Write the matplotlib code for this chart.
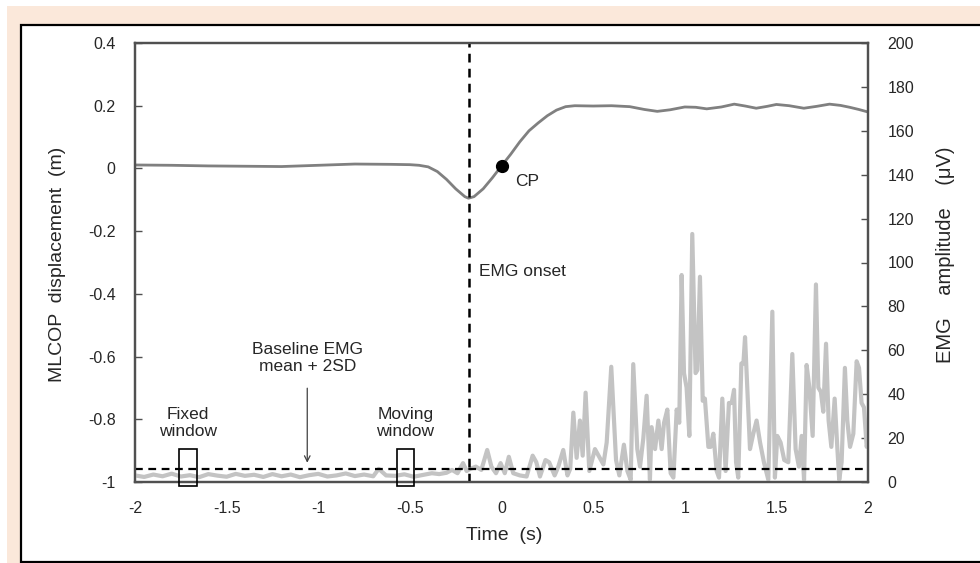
import matplotlib.pyplot as plt
from matplotlib.patches import Rectangle

plt.rcParams['font.family'] = ['Liberation Sans', 'DejaVu Sans']

# MLCOP displacement (m), left axis
cop_t = [-2.0, -1.8, -1.6, -1.4, -1.2, -1.0, -0.8, -0.6, -0.5, -0.45, -0.40,
         -0.35, -0.30, -0.25, -0.20, -0.18, -0.15, -0.10, -0.05, 0.0, 0.05,
         0.10, 0.15, 0.20, 0.25, 0.30, 0.35, 0.40, 0.50, 0.60, 0.70, 0.78,
         0.85, 0.92, 1.00, 1.06, 1.12, 1.20, 1.27, 1.33, 1.39, 1.45, 1.50,
         1.57, 1.65, 1.72, 1.79, 1.85, 1.90, 1.95, 2.00]
cop_v = [0.011, 0.010, 0.008, 0.007, 0.006, 0.010, 0.014, 0.013, 0.012, 0.010, 0.005,
         -0.010, -0.035, -0.065, -0.090, -0.095, -0.090, -0.065, -0.030, 0.008, 0.045,
         0.085, 0.120, 0.145, 0.168, 0.186, 0.197, 0.200, 0.199, 0.200, 0.197, 0.188,
         0.182, 0.187, 0.196, 0.195, 0.190, 0.196, 0.205, 0.199, 0.192, 0.198, 0.204,
         0.200, 0.192, 0.198, 0.205, 0.201, 0.195, 0.188, 0.180]

# EMG amplitude (uV), right axis
emg_t = [-2.00, -1.95, -1.90, -1.85, -1.80, -1.75, -1.70, -1.65, -1.60, -1.55,
         -1.50, -1.45, -1.40, -1.35, -1.30, -1.25, -1.20, -1.15, -1.10, -1.05,
         -1.00, -0.95, -0.90, -0.85, -0.80, -0.75, -0.70, -0.67, -0.63, -0.58,
         -0.53, -0.48, -0.43, -0.38, -0.34, -0.30, -0.27, -0.24, -0.21, -0.19,
         -0.17, -0.14, -0.11, -0.078, -0.055, -0.03, -0.005, 0.018, 0.04, 0.064,
         0.10, 0.137, 0.17, 0.19, 0.21, 0.24, 0.26, 0.29, 0.31, 0.337,
         0.36, 0.375, 0.392, 0.41, 0.428, 0.443, 0.459, 0.479, 0.510, 0.556,
         0.574, 0.599, 0.625, 0.643, 0.668, 0.687, 0.705, 0.719, 0.741, 0.756,
         0.774, 0.792, 0.810, 0.819, 0.838, 0.856, 0.874, 0.887, 0.905, 0.923,
         0.938, 0.956, 0.970, 0.983, 0.996, 1.010, 1.025, 1.041, 1.059, 1.069,
         1.083, 1.098, 1.110, 1.129, 1.141, 1.156, 1.174, 1.187, 1.205, 1.223,
         1.241, 1.256, 1.269, 1.280, 1.292, 1.309, 1.320, 1.329, 1.341, 1.356,
         1.374, 1.392, 1.411, 1.432, 1.456, 1.478, 1.492, 1.505, 1.523, 1.543,
         1.565, 1.587, 1.605, 1.623, 1.638, 1.651, 1.665, 1.680, 1.698, 1.716,
         1.729, 1.743, 1.756, 1.771, 1.785, 1.800, 1.818, 1.833, 1.843, 1.856,
         1.874, 1.887, 1.902, 1.920, 1.938, 1.951, 1.965, 1.978, 1.993, 2.000]
emg_v = [3.0, 2.3, 3.4, 2.6, 3.8, 2.5, 3.1, 2.2, 3.6, 2.9,
         2.4, 3.7, 2.8, 3.3, 2.3, 3.6, 2.6, 3.4, 2.2, 3.1,
         3.7, 2.5, 3.0, 3.9, 2.7, 3.4, 2.6, 6.0, 3.0, 2.8,
         3.5, 2.4, 3.2, 4.0, 3.6, 4.2, 5.5, 4.0, 8.6, 5.0,
         6.0, 7.0, 5.5, 14.6, 7.0, 4.0, 8.6, 4.0, 11.5, 4.0,
         3.0, 2.5, 12.0, 9.0, 2.5, 10.0, 9.0, 3.0, 7.0, 14.6,
         3.0, 6.0, 31.6, 11.0, 28.0, 12.0, 40.7, 5.0, 15.0, 8.0,
         18.0, 52.5, 10.0, 3.0, 17.0, 5.0, 1.0, 53.7, 15.0, 7.0,
         20.0, 39.3, 1.0, 25.0, 15.0, 28.0, 15.0, 27.0, 33.0, 4.0,
         2.0, 33.0, 27.0, 94.3, 49.6, 43.0, 21.0, 113.0, 49.6, 51.0,
         93.5, 37.0, 38.0, 16.0, 16.0, 22.0, 5.0, 2.0, 38.0, 5.0,
         36.0, 36.0, 42.0, 9.0, 2.0, 54.0, 54.0, 66.0, 43.0, 15.0,
         22.0, 28.0, 18.0, 9.0, 1.0, 77.6, 2.0, 21.0, 18.0, 10.0,
         9.0, 58.3, 15.0, 7.0, 21.0, 1.0, 53.3, 43.0, 21.0, 90.0,
         43.0, 41.0, 32.0, 63.0, 28.0, 16.0, 38.0, 15.0, 1.0, 9.0,
         52.0, 28.0, 16.0, 22.0, 55.0, 52.0, 36.0, 34.0, 16.0, 19.0]

threshold = 6.0        # baseline mean + 2SD
onset_t = -0.177       # EMG onset
cp_t, cp_v = 0.0, 0.008
fixed_win = (-1.758, -1.660)
moving_win = (-0.572, -0.476)
win_lo, win_hi = -1.8, 14.9

fig = plt.figure(figsize=(9.8, 5.63), dpi=100)
W, H = 980, 563

# peach frame and white panel
fig.patches.append(Rectangle((7 / W, 0), 1, (H - 6) / H, transform=fig.transFigure,
                             facecolor='#fbe8da', edgecolor='none', zorder=-10))
fig.patches.append(Rectangle((21 / W, 1 / H), 1, 537 / H, transform=fig.transFigure,
                             facecolor='white', edgecolor='black', lw=1.6, zorder=-9))

ax = fig.add_axes([135 / W, 81 / H, 733 / W, 439 / H])
ax.patch.set_alpha(0)
ax2 = ax.twinx()

spine_c = '#505050'
txt_c = '#262626'

ax.plot(cop_t, cop_v, color='#808080', lw=2)
ax.plot([cp_t], [cp_v], 'o', color='black', ms=8.5, zorder=5)
ax.set_xlim(-2, 2)
ax.set_ylim(-1, 0.4)
ax.set_yticks([-1, -0.8, -0.6, -0.4, -0.2, 0, 0.2, 0.4])
ax.set_yticklabels(['-1', '-0.8', '-0.6', '-0.4', '-0.2', '0', '0.2', '0.4'])
ax.set_xticks([-2, -1.5, -1, -0.5, 0, 0.5, 1, 1.5, 2])
ax.set_xticklabels(['-2', '-1.5', '-1', '-0.5', '0', '0.5', '1', '1.5', '2'])
ax.tick_params(axis='y', direction='in', length=5, width=1, color=spine_c,
               labelsize=11.5, labelcolor=txt_c, pad=14)
ax.tick_params(axis='x', length=0, labelsize=11.5, labelcolor=txt_c, pad=14)

ax2.plot(emg_t, emg_v, color='#c3c3c3', lw=3, solid_joinstyle='round')
ax2.axhline(threshold, color='black', lw=1.6, ls=(0, (3.5, 2.5)))
ax2.axvline(onset_t, color='black', lw=1.8, ls=(0, (3.5, 2.5)))
ax2.set_ylim(0, 200)
ax2.set_yticks(range(0, 201, 20))
ax2.tick_params(axis='y', direction='in', length=5, width=1, color=spine_c,
                labelsize=11.5, labelcolor=txt_c, pad=14)

for a in (ax, ax2):
    for s in a.spines.values():
        s.set_color(spine_c)
        s.set_linewidth(1.6)

# windows
for lo, hi in (fixed_win, moving_win):
    ax2.add_patch(Rectangle((lo, win_lo), hi - lo, win_hi - win_lo, fill=False,
                            edgecolor='black', lw=1.2, clip_on=False, zorder=6))

ax2.text(-1.71, 27, 'Fixed\nwindow', ha='center', va='center', fontsize=12.5,
         color=txt_c, linespacing=1.15)
ax2.text(-0.524, 27, 'Moving\nwindow', ha='center', va='center', fontsize=12.5,
         color=txt_c, linespacing=1.15)
ax2.text(-1.056, 56.5, 'Baseline EMG\nmean + 2SD', ha='center', va='center',
         fontsize=12.5, color=txt_c, linespacing=1.15)
ax2.annotate('', xy=(-1.06, 7.5), xytext=(-1.06, 44),
             arrowprops=dict(arrowstyle='->', color='#404040', lw=0.9))
ax2.text(-0.125, 96, 'EMG onset', ha='left', va='center', fontsize=12.5, color=txt_c)
ax.text(0.075, -0.043, 'CP', ha='left', va='center', fontsize=12.5, color=txt_c)

fig.text(58 / W, 1 - 264 / H, 'MLCOP  displacement  (m)', rotation=90,
         ha='center', va='center', fontsize=14, color=txt_c)
fig.text(945 / W, 1 - 255 / H, 'EMG    amplitude    (μV)', rotation=90,
         ha='center', va='center', fontsize=14.5, color=txt_c)
fig.text(504 / W, 1 - 535 / H, 'Time  (s)', ha='center', va='center',
         fontsize=14, color=txt_c)

fig.savefig('out.png', dpi=100)
